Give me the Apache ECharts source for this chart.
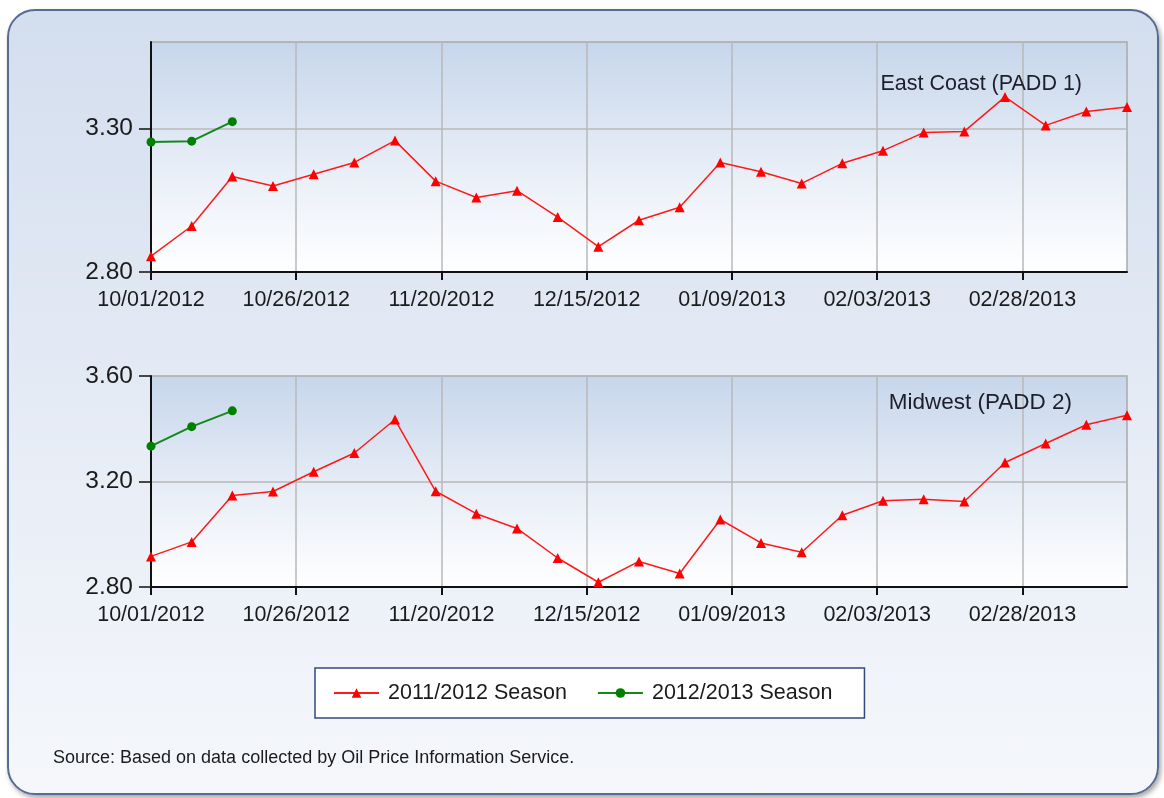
<!DOCTYPE html>
<html>
<head>
<meta charset="utf-8">
<title>Weekly Heating Oil Prices</title>
<script src="https://cdn.jsdelivr.net/npm/echarts@6/dist/echarts.min.js"></script>
<style>
  html, body { margin: 0; padding: 0; background: #ffffff; }
  #wrap { position: relative; width: 1164px; height: 798px; }
  #panel {
    position: absolute; left: 7px; top: 9px; width: 1148px; height: 782px;
    border: 2px solid #566b91; border-radius: 28px;
    background: linear-gradient(to bottom, #d3deee 0%, #e5ebf5 50%, #f5f7fb 100%);
    box-shadow: 2px 3px 5px rgba(0,0,0,0.35);
  }
  #chart { position: absolute; left: 0; top: 0; width: 1164px; height: 798px; }
</style>
</head>
<body>
<div id="wrap">
  <div id="panel"></div>
  <div id="chart"></div>
</div>
<script>
// Weekly reporting dates (Mondays)
const weeks = [
  '2012-10-01','2012-10-08','2012-10-15','2012-10-22','2012-10-29',
  '2012-11-05','2012-11-12','2012-11-19','2012-11-26','2012-12-03',
  '2012-12-10','2012-12-17','2012-12-24','2012-12-31','2013-01-07',
  '2013-01-14','2013-01-21','2013-01-28','2013-02-04','2013-02-11',
  '2013-02-18','2013-02-25','2013-03-04','2013-03-11','2013-03-18'
];

// East Coast (PADD 1), $/gal
const eastPrev = [2.855, 2.960, 3.132, 3.099, 3.140, 3.181, 3.257, 3.116, 3.059, 3.083,
                  2.991, 2.888, 2.980, 3.025, 3.181, 3.149, 3.108, 3.178, 3.222, 3.285,
                  3.289, 3.409, 3.310, 3.358, 3.374];
const eastCurr = [3.252, 3.255, 3.323];

// Midwest (PADD 2), $/gal
const midPrev = [2.916, 2.971, 3.147, 3.162, 3.237, 3.308, 3.435, 3.163, 3.078, 3.022,
                 2.910, 2.818, 2.897, 2.851, 3.056, 2.967, 2.932, 3.072, 3.127, 3.133,
                 3.124, 3.272, 3.344, 3.415, 3.451];
const midCurr = [3.334, 3.408, 3.468];

// Axis tick positions and labels
const dateTicks = ['2012-10-01','2012-10-26','2012-11-20','2012-12-15','2013-01-09','2013-02-03','2013-02-28'];
const eastTicks = [2.80, 3.30];
const midTicks = [2.80, 3.20, 3.60];

const seriesNames = ['2011/2012 Season', '2012/2013 Season'];
const panelTitles = ['East Coast (PADD 1)', 'Midwest (PADD 2)'];
const sourceNote = 'Source: Based on data collected by Oil Price Information Service.';

const FONT = "'Liberation Sans', Arial, sans-serif";
const DAY = 86400000;
const t0 = Date.parse(weeks[0]);
// x positions are days elapsed since the first reporting date
const dayOf = (s) => Math.round((Date.parse(s) - t0) / DAY);
const pair = (vals) => vals.map((v, i) => [dayOf(weeks[i]), v]);
const pad2 = (n) => (n < 10 ? '0' : '') + n;
const fmtDay = (v) => {
  const d = new Date(t0 + v * DAY);
  return pad2(d.getUTCMonth() + 1) + '/' + pad2(d.getUTCDate()) + '/' + d.getUTCFullYear();
};
const xTickDays = dateTicks.map(dayOf);

const plotBg = {
  type: 'linear', x: 0, y: 0, x2: 0, y2: 1,
  colorStops: [
    { offset: 0, color: '#c6d6eb' },
    { offset: 0.55, color: '#e8eef7' },
    { offset: 1, color: '#ffffff' }
  ]
};

function makeX(gridIndex) {
  return {
    type: 'value', gridIndex,
    min: 0, max: dayOf(weeks[weeks.length - 1]),
    axisLine: { show: true, onZero: false, lineStyle: { color: '#111111', width: 2 } },
    axisTick: { show: true, length: 8, customValues: xTickDays, lineStyle: { color: '#111111', width: 2 } },
    axisLabel: {
      customValues: xTickDays, formatter: fmtDay, margin: 17,
      color: '#1b1b1b', fontSize: 21.5, fontFamily: FONT
    },
    splitLine: { show: true, lineStyle: { color: '#b9b9b9', width: 1.5 } }
  };
}

function makeY(gridIndex, ticks, min, max) {
  return {
    type: 'value', gridIndex, min, max,
    axisLine: { show: true, onZero: false, lineStyle: { color: '#111111', width: 2 } },
    axisTick: { show: true, length: 12, customValues: ticks, lineStyle: { color: '#111111', width: 1.5 } },
    axisLabel: {
      customValues: ticks, formatter: (v) => v.toFixed(2), margin: 18,
      color: '#1b1b1b', fontSize: 24.5, fontFamily: FONT
    },
    splitLine: { show: true, lineStyle: { color: '#b9b9b9', width: 1.5 } }
  };
}

function prevSeries(idx, vals) {
  return {
    name: seriesNames[0], type: 'line', xAxisIndex: idx, yAxisIndex: idx,
    data: pair(vals), symbol: 'triangle', symbolSize: 10,
    itemStyle: { color: '#ff0000' }, lineStyle: { color: '#ff1a1a', width: 1.5 },
    z: 3
  };
}
function currSeries(idx, vals) {
  return {
    name: seriesNames[1], type: 'line', xAxisIndex: idx, yAxisIndex: idx,
    data: pair(vals), symbol: 'circle', symbolSize: 9,
    itemStyle: { color: '#008000' }, lineStyle: { color: '#14871a', width: 2 },
    z: 4
  };
}

const chart = echarts.init(document.getElementById('chart'), null, { renderer: 'canvas' });
chart.setOption({
  backgroundColor: 'transparent',
  animation: false,
  grid: [
    { left: 151, top: 42, width: 976, height: 230, show: true, backgroundColor: plotBg, borderColor: '#a9a9a9', borderWidth: 1.5 },
    { left: 151, top: 376, width: 976, height: 211, show: true, backgroundColor: plotBg, borderColor: '#a9a9a9', borderWidth: 1.5 }
  ],
  xAxis: [makeX(0), makeX(1)],
  yAxis: [makeY(0, eastTicks, 2.80, 3.60), makeY(1, midTicks, 2.80, 3.60)],
  title: [
    { text: panelTitles[0], right: 82, top: 73, padding: 0,
      textStyle: { fontSize: 21.5, fontWeight: 'normal', color: '#1e1e2a', fontFamily: FONT } },
    { text: panelTitles[1], right: 92, top: 391, padding: 0,
      textStyle: { fontSize: 22.5, fontWeight: 'normal', color: '#1e1e2a', fontFamily: FONT } }
  ],
  legend: {
    data: seriesNames,
    left: 315, top: 668,
    padding: [14, 32, 14, 18],
    itemWidth: 45, itemHeight: 12, itemGap: 30,
    backgroundColor: '#ffffff', borderColor: '#34497a', borderWidth: 1.5, borderRadius: 0,
    textStyle: { fontSize: 21.5, color: '#1b1b1b', fontFamily: FONT, padding: [0, 0, 0, 4] }
  },
  graphic: [
    { type: 'text', left: 53, top: 749,
      style: { text: sourceNote, fontSize: 18, fill: '#1b1b1b', fontFamily: FONT } }
  ],
  series: [
    prevSeries(0, eastPrev), currSeries(0, eastCurr),
    prevSeries(1, midPrev), currSeries(1, midCurr)
  ]
});
</script>
</body>
</html>
